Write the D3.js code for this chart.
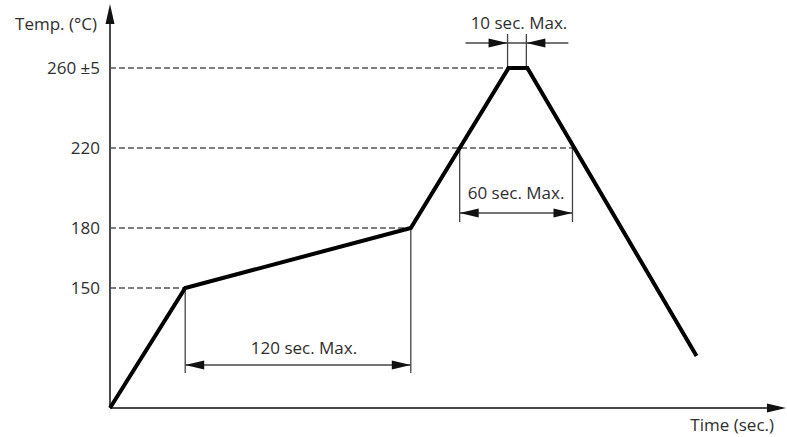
<!DOCTYPE html>
<html>
<head>
<meta charset="utf-8">
<script src="https://cdn.jsdelivr.net/npm/d3@7"></script>
<style>
  html, body { margin: 0; padding: 0; background: #fff; }
  svg text { font-family: "Open Sans", sans-serif; fill: #2e2e2e; }
</style>
</head>
<body>
<svg id="chart" width="787" height="437"></svg>
<script>
// Reflow soldering profile: time (s) vs temperature (°C)
const profileTime = [0, 40, 160, 212, 222, 312];
const profileTemp = [90, 150, 180, 260, 260, 116];

// Reference temperature levels and their labels
const levelTemps = [150, 180, 220, 260];
const levelLabels = ["150", "180", "220", "260 ±5"];
// Where each dashed reference line ends (time)
const levelEnds = [40, 160, 247, 212];

// Dimension annotations: [start, end] time, label
const dimStart = [40, 186, 212];
const dimEnd = [160, 246, 222];
const dimLabels = ["120 sec. Max.", "60 sec. Max.", "10 sec. Max."];

const svg = d3.select("#chart");
const x = d3.scaleLinear().domain([0, 360]).range([110, 786.8]);
const y = d3.scaleLinear().domain([90, 290]).range([408, 8]);

const axisColor = "#4a4a4a";
const fontSize = "17px";

// dashed reference lines
svg.selectAll("line.level").data(levelTemps).enter().append("line")
  .attr("x1", x(0)).attr("x2", (d, i) => x(levelEnds[i]))
  .attr("y1", d => y(d)).attr("y2", d => y(d))
  .attr("stroke", "#555").attr("stroke-width", 1.5)
  .attr("stroke-dasharray", "6,3");

// temperature labels via a left axis
const yAxis = d3.axisLeft(y).tickValues(levelTemps)
  .tickFormat((d, i) => levelLabels[i]).tickSize(0).tickPadding(10);
const gy = svg.append("g").attr("transform", `translate(${x(0)},0)`).call(yAxis);
gy.select(".domain").remove();
gy.selectAll("text").style("font-size", fontSize).attr("fill", "#2e2e2e")
  .style("font-family", "'Open Sans', sans-serif");

// axes with arrowheads
svg.append("line").attr("x1", x(0)).attr("y1", y(90)).attr("x2", x(0)).attr("y2", 14)
  .attr("stroke", axisColor).attr("stroke-width", 2);
svg.append("path").attr("d", `M${x(0)},4 L${x(0) - 4.5},24 L${x(0) + 4.5},24 Z`).attr("fill", "#111");
svg.append("line").attr("x1", x(0)).attr("y1", y(90)).attr("x2", 775).attr("y2", y(90))
  .attr("stroke", axisColor).attr("stroke-width", 2);
svg.append("path").attr("d", `M786,${y(90)} L767,${y(90) - 4.5} L767,${y(90) + 4.5} Z`).attr("fill", "#111");

svg.append("text").attr("x", 97).attr("y", 30).attr("text-anchor", "end")
  .style("font-size", fontSize).text("Temp. (°C)");
svg.append("text").attr("x", 774).attr("y", 431).attr("text-anchor", "end")
  .style("font-size", fontSize).text("Time (sec.)");

// dimension annotations
const extColor = "#444";
function arrowHead(px, py, dir) {
  // dir: +1 points right, -1 points left
  const L = 19, W = 4.5;
  return `M${px},${py} L${px - dir * L},${py - W} L${px - dir * L},${py + W} Z`;
}
function tempAt(t) {
  for (let i = 1; i < profileTime.length; i++) {
    if (t <= profileTime[i]) {
      const f = (t - profileTime[i - 1]) / (profileTime[i] - profileTime[i - 1]);
      return profileTemp[i - 1] + f * (profileTemp[i] - profileTemp[i - 1]);
    }
  }
  return profileTemp[profileTemp.length - 1];
}

// 120 s (preheat)
{
  const a = x(dimStart[0]), b = x(dimEnd[0]), ly = 365;
  svg.append("line").attr("x1", a).attr("x2", a).attr("y1", y(tempAt(dimStart[0]))).attr("y2", 373).attr("stroke", extColor).attr("stroke-width", 1.3);
  svg.append("line").attr("x1", b).attr("x2", b).attr("y1", y(tempAt(dimEnd[0]))).attr("y2", 373).attr("stroke", extColor).attr("stroke-width", 1.3);
  svg.append("line").attr("x1", a).attr("x2", b).attr("y1", ly).attr("y2", ly).attr("stroke", extColor).attr("stroke-width", 1.3);
  svg.append("path").attr("d", arrowHead(a, ly, -1)).attr("fill", "#111");
  svg.append("path").attr("d", arrowHead(b, ly, 1)).attr("fill", "#111");
  svg.append("text").attr("x", (a + b) / 2 + 6).attr("y", 354).attr("text-anchor", "middle").style("font-size", fontSize).text(dimLabels[0]);
}
// 60 s above 220 °C
{
  const a = x(dimStart[1]), b = x(dimEnd[1]), ly = 213;
  svg.append("line").attr("x1", a).attr("x2", a).attr("y1", y(220)).attr("y2", 222).attr("stroke", extColor).attr("stroke-width", 1.3);
  svg.append("line").attr("x1", b).attr("x2", b).attr("y1", y(220)).attr("y2", 222).attr("stroke", extColor).attr("stroke-width", 1.3);
  svg.append("line").attr("x1", a).attr("x2", b).attr("y1", ly).attr("y2", ly).attr("stroke", extColor).attr("stroke-width", 1.3);
  svg.append("path").attr("d", arrowHead(a, ly, -1)).attr("fill", "#111");
  svg.append("path").attr("d", arrowHead(b, ly, 1)).attr("fill", "#111");
  svg.append("text").attr("x", (a + b) / 2).attr("y", 199).attr("text-anchor", "middle").style("font-size", fontSize).text(dimLabels[1]);
}
// 10 s at peak
{
  const a = x(dimStart[2]) - 1, b = x(dimEnd[2]) - 1, ly = 43;
  svg.append("line").attr("x1", a).attr("x2", a).attr("y1", 34).attr("y2", y(260)).attr("stroke", extColor).attr("stroke-width", 1.3);
  svg.append("line").attr("x1", b).attr("x2", b).attr("y1", 34).attr("y2", y(260)).attr("stroke", extColor).attr("stroke-width", 1.3);
  svg.append("line").attr("x1", a - 42).attr("x2", b + 42).attr("y1", ly).attr("y2", ly).attr("stroke", extColor).attr("stroke-width", 1.3);
  svg.append("path").attr("d", arrowHead(a, ly, 1)).attr("fill", "#111");
  svg.append("path").attr("d", arrowHead(b, ly, -1)).attr("fill", "#111");
  svg.append("text").attr("x", (a + b) / 2 + 2).attr("y", 29).attr("text-anchor", "middle").style("font-size", fontSize).text(dimLabels[2]);
}

// the profile curve
const line = d3.line().x(d => x(d[0])).y(d => y(d[1]));
svg.append("path")
  .datum(profileTime.map((t, i) => [t, profileTemp[i]]))
  .attr("d", line)
  .attr("fill", "none").attr("stroke", "#000").attr("stroke-width", 4)
  .attr("stroke-linejoin", "miter");
</script>
</body>
</html>
